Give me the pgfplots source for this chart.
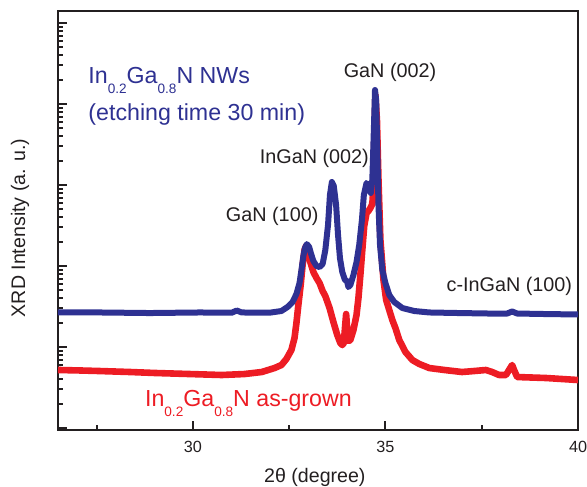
\documentclass[border=0pt]{standalone}
\usepackage{pgfplots}
\pgfplotsset{compat=1.18}
\usepackage{fontspec}
\setmainfont{Liberation Sans}

\definecolor{nwblue}{RGB}{46,49,146}
\definecolor{grred}{RGB}{237,28,36}
\definecolor{ink}{RGB}{35,31,32}

% subscript as in the original: small and set well below the baseline
\newcommand{\sub}[1]{\raisebox{-5pt}{\fontsize{6.8}{7}\selectfont #1}}

% y values are log10(intensity)
\pgfplotstableread{
x ly
26.50 0.716
27.07 0.710
27.59 0.703
28.37 0.691
29.01 0.679
29.92 0.666
30.75 0.654
31.34 0.666
31.79 0.691
32.12 0.740
32.30 0.777
32.43 0.852
32.56 0.963
32.64 1.111
32.69 1.296
32.74 1.518
32.80 1.765
32.85 2.012
32.90 2.197
32.94 2.247
32.99 2.197
33.05 2.049
33.13 1.926
33.21 1.852
33.29 1.790
33.37 1.691
33.44 1.629
33.55 1.481
33.65 1.308
33.75 1.148
33.83 1.049
33.88 1.024
33.92 1.049
33.95 1.234
33.98 1.407
34.01 1.210
34.04 1.074
34.09 1.086
34.17 1.210
34.25 1.395
34.30 1.605
34.35 1.889
34.40 2.197
34.45 2.494
34.51 2.654
34.56 2.679
34.61 2.716
34.65 2.753
34.67 2.815
34.70 3.308
34.74 4.111
34.78 3.802
34.82 3.061
34.87 2.321
34.95 1.827
35.02 1.580
35.10 1.456
35.18 1.333
35.26 1.234
35.36 1.086
35.52 0.938
35.70 0.839
35.88 0.790
36.14 0.740
36.53 0.716
36.99 0.691
37.30 0.703
37.61 0.716
37.77 0.691
37.95 0.654
38.13 0.654
38.24 0.740
38.29 0.777
38.34 0.716
38.42 0.629
39.17 0.617
40.00 0.592
}\asgrown

\pgfplotstableread{
x ly
26.50 1.426
27.59 1.426
28.88 1.419
30.18 1.426
31.01 1.423
31.14 1.450
31.27 1.426
31.99 1.423
32.30 1.444
32.46 1.494
32.59 1.555
32.69 1.654
32.77 1.790
32.82 1.950
32.87 2.123
32.91 2.220
32.96 2.270
33.02 2.235
33.07 2.150
33.13 2.061
33.21 2.000
33.29 1.987
33.37 2.024
33.44 2.197
33.51 2.506
33.56 2.876
33.61 3.037
33.66 2.987
33.72 2.753
33.77 2.382
33.82 2.098
33.88 1.926
33.95 1.827
34.00 1.815
34.04 1.740
34.09 1.765
34.17 1.889
34.25 2.049
34.32 2.259
34.39 2.568
34.44 2.876
34.51 3.024
34.57 2.987
34.62 2.901
34.66 3.061
34.70 3.679
34.73 4.173
34.76 4.049
34.79 3.432
34.82 2.753
34.86 2.259
34.92 1.950
35.00 1.790
35.10 1.642
35.23 1.555
35.44 1.481
35.75 1.444
36.14 1.426
36.91 1.419
37.69 1.413
38.16 1.413
38.29 1.438
38.42 1.413
39.12 1.407
40.00 1.401
}\etched

\begin{document}
\begin{tikzpicture}
\begin{axis}[
    name=ax,
    scale only axis,
    width=260pt, height=209.5pt,
    xmin=26.5, xmax=40,
    ymin=-0.025, ymax=5.148,
    axis line style={line width=1pt, ink},
    tick style={line width=1pt, ink},
    tick align=inside,
    xtick pos=bottom, ytick pos=left,
    xtick={30,35,40},
    minor xtick={27.5,32.5,37.5},
    ytick={0,1,2,3,4,5},
    yticklabels={},
    minor ytick={0.301,0.477,0.602,0.699,0.778,0.845,0.903,0.954,
                 1.301,1.477,1.602,1.699,1.778,1.845,1.903,1.954,
                 2.301,2.477,2.602,2.699,2.778,2.845,2.903,2.954,
                 3.301,3.477,3.602,3.699,3.778,3.845,3.903,3.954,
                 4.301,4.477,4.602,4.699,4.778,4.845,4.903,4.954},
    major tick length=4.5pt,
    minor tick length=2.5pt,
    /pgf/number format/assume math mode=true,
    xticklabel style={font=\fontsize{8.1}{9}\selectfont, text=ink, inner sep=0pt, yshift=-5.6pt},
    xlabel={2θ (degree)},
    ylabel={XRD Intensity (a. u.)},
    every axis x label/.style={at={(axis description cs:0.494,0)}, anchor=center,
        yshift=-23.5pt, font=\fontsize{9.8}{11}\selectfont, text=ink},
    every axis y label/.style={at={(axis description cs:-0.073,0.482)}, anchor=center,
        rotate=90, font=\fontsize{9.8}{11}\selectfont, text=ink},
]
\addplot[color=grred, line width=3.3pt, line join=round] table[x=x, y=ly] {\asgrown};
\addplot[color=nwblue, line width=3pt, line join=round] table[x=x, y=ly] {\etched};

\coordinate (bl) at (rel axis cs:0,0);
\coordinate (tr) at (rel axis cs:1,1);

\node[anchor=base west, inner sep=0pt, text=nwblue, font=\fontsize{11.6}{13}\selectfont]
    at (axis cs:27.28,4.259) {In\sub{0.2}Ga\sub{0.8}N NWs};
\node[anchor=base west, inner sep=0pt, text=nwblue, font=\fontsize{11.6}{13}\selectfont]
    at (axis cs:27.28,3.802) {(etching time 30 min)};
\node[anchor=base west, inner sep=0pt, text=grred, font=\fontsize{11.6}{13}\selectfont]
    at (axis cs:28.75,0.259) {In\sub{0.2}Ga\sub{0.8}N as-grown};

\node[anchor=base west, inner sep=0pt, text=ink, font=\fontsize{9.9}{12}\selectfont]
    at (axis cs:33.91,4.321) {GaN (002)};
\node[anchor=base west, inner sep=0pt, text=ink, font=\fontsize{9.9}{12}\selectfont]
    at (axis cs:31.73,3.271) {InGaN (002)};
\node[anchor=base west, inner sep=0pt, text=ink, font=\fontsize{9.9}{12}\selectfont]
    at (axis cs:30.85,2.543) {GaN (100)};
\node[anchor=base west, inner sep=0pt, text=ink, font=\fontsize{9.9}{12}\selectfont]
    at (axis cs:36.58,1.679) {c-InGaN (100)};
\end{axis}
\pgfresetboundingbox
\useasboundingbox ([xshift=-29pt,yshift=-28pt]bl) rectangle ([xshift=4.5pt,yshift=5.5pt]tr);
\end{tikzpicture}
\end{document}
